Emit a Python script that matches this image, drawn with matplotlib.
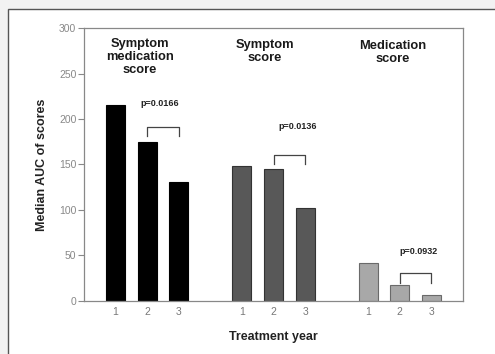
import matplotlib
matplotlib.use("Agg")
import matplotlib.pyplot as plt
from matplotlib.patches import Rectangle

plt.rcParams['font.family'] = ['Liberation Sans', 'DejaVu Sans']

groups = ["Symptom\nmedication\nscore", "Symptom\nscore", "Medication\nscore"]
years = ["1", "2", "3"]
values = [[215, 175, 131], [148, 145, 102], [41, 17, 6]]
pvalues = ["p=0.0166", "p=0.0136", "p=0.0932"]
bracket_top = [191, 161, 30]
bracket_drop = 10
pval_x = [2.39, 6.77, 10.6]
pval_y = [217, 192, 54]
colors = ["#000000", "#585858", "#a8a8a8"]
edges = ["#000000", "#333333", "#6a6a6a"]

fig = plt.figure(figsize=(4.95, 3.54), dpi=100)
fig.patch.set_facecolor("#f2f2f2")

bg = fig.add_axes([0, 0, 1, 1], zorder=-5)
bg.set_xlim(0, 495)
bg.set_ylim(354, 0)
bg.axis("off")
bg.add_patch(Rectangle((8, 9), 495, 354, facecolor="white", edgecolor="#555555", linewidth=1.0))

ax = fig.add_axes([84/495, 1 - 300.7/354, 379/495, 272.4/354], zorder=1)
ax.set_facecolor("white")

xpos_all = []
xlabels_all = []
for g, vals in enumerate(values):
    base = 1 + 4 * g
    xs = [base + i for i in range(len(vals))]
    ax.bar(xs, vals, width=0.6, color=colors[g], edgecolor=edges[g], linewidth=0.8, zorder=2)
    xpos_all += xs
    xlabels_all += years
    x1, x2 = xs[1], xs[2]
    t = bracket_top[g]
    ax.plot([x1, x1, x2, x2], [t - bracket_drop, t, t, t - bracket_drop],
            color="#444444", linewidth=0.9, zorder=3)
    ax.text(pval_x[g], pval_y[g], pvalues[g], ha="center", va="center",
            fontsize=6.5, fontweight="bold", color="#222222")

title_x = [1.77, 5.72, 9.77]
title_y = [289.5, 288, 287]
for g, name in enumerate(groups):
    ax.text(title_x[g], title_y[g], name, ha="center", va="top", fontsize=9.3,
            fontweight="bold", color="#1a1a1a", linespacing=1.12)

ax.set_xlim(0, 12)
ax.set_ylim(0, 300)
ax.set_yticks([0, 50, 100, 150, 200, 250, 300])
ax.set_xticks(xpos_all)
ax.set_xticklabels(xlabels_all)
ax.tick_params(axis="x", length=0, pad=4.5, labelsize=7.5, labelcolor="#777777")
ax.tick_params(axis="y", length=4, width=0.8, color="#888888", labelsize=7.5,
               labelcolor="#888888", direction="out", pad=1.5)
for s in ax.spines.values():
    s.set_color("#888888")
    s.set_linewidth(0.9)

ax.set_ylabel("Median AUC of scores", fontsize=9, fontweight="bold", color="#222222", labelpad=8)
ax.set_xlabel("Treatment year", fontsize=9, fontweight="bold", color="#222222", labelpad=10)

fig.savefig("out.png", dpi=100, facecolor=fig.get_facecolor())
